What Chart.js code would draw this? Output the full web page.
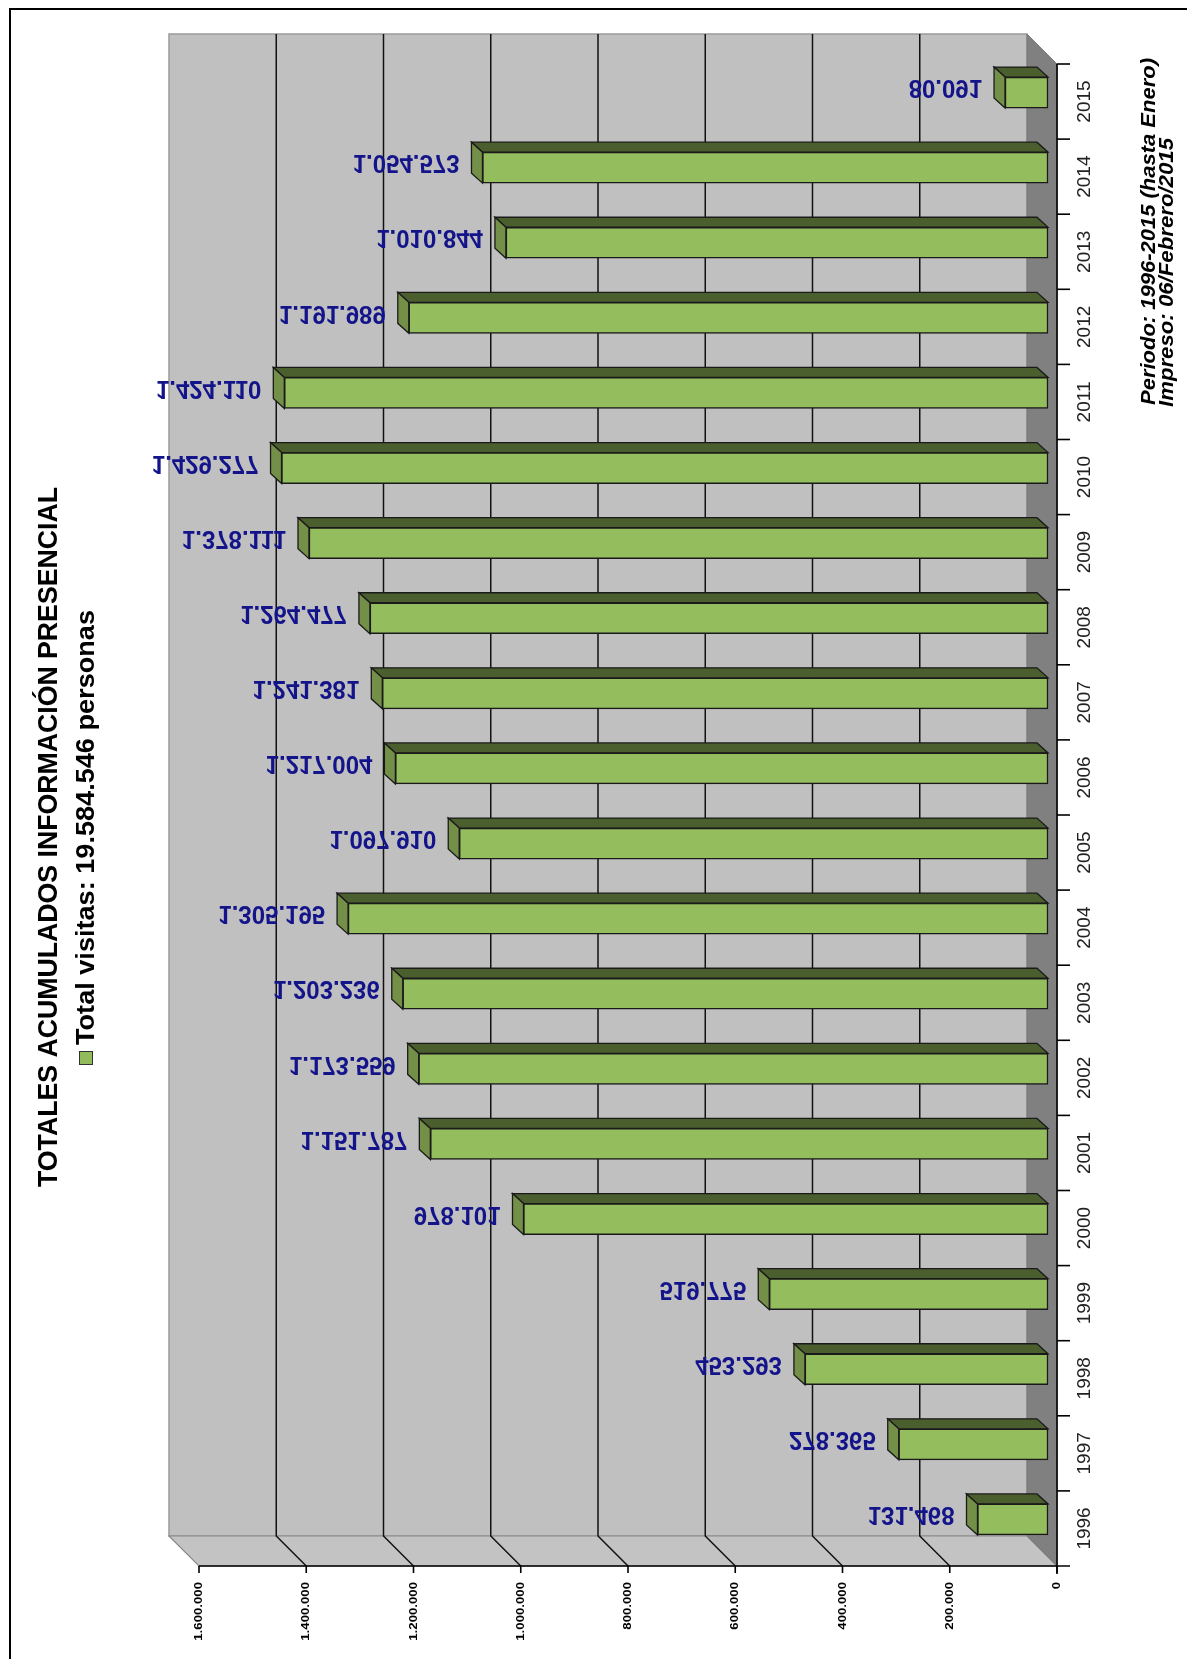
<!DOCTYPE html>
<html>
<head>
<meta charset="utf-8">
<script src="https://cdn.jsdelivr.net/npm/chart.js@4"></script>
<style>
  html, body { margin: 0; padding: 0; background: #fff; }
  #wrap { width: 1187px; height: 1659px; position: relative; }
</style>
</head>
<body>
<div id="wrap"><canvas id="visitsChart" width="1187" height="1659"></canvas></div>
<script>
// data (years bottom to top)
const years = ['1996','1997','1998','1999','2000','2001','2002','2003','2004','2005',
               '2006','2007','2008','2009','2010','2011','2012','2013','2014','2015'];
const visits = [131468, 278365, 453293, 519775, 978101, 1151787, 1173559, 1203236, 1305195, 1097910,
                1217004, 1241381, 1264477, 1378111, 1429277, 1424110, 1191989, 1010844, 1054573, 80091];
const valueTicksMax = 1600000;
const valueTickStep = 200000;
const titleText = 'TOTALES ACUMULADOS INFORMACIÓN PRESENCIAL';
const legendText = 'Total visitas: 19.584.546 personas';
const periodText = 'Periodo: 1996-2015 (hasta Enero)';
const printedText = 'Impreso: 06/Febrero/2015';

const FONT = '"Liberation Sans", Arial, sans-serif';
const DEPTH = 30;      // wall depth
const BAR_SHIFT = 9;   // bar front face offset into the depth
const BAR_DX = 11, BAR_DY = 10; // bar thickness in depth

function fmt(v) {
    return String(v).replace(/\B(?=(\d{3})+(?!\d))/g, '.');
}

// draw text with optional rotation / stretching
function txt(ctx, s, x, y, o) {
    ctx.save();
    ctx.translate(x, y);
    if (o.rot) ctx.rotate(o.rot);
    ctx.font = o.font;
    ctx.fillStyle = o.color || '#000';
    ctx.textAlign = o.align || 'left';
    ctx.textBaseline = o.base || 'alphabetic';
    const w = ctx.measureText(s).width;
    let sx = o.wx || 1;
    if (o.len) sx = o.len / w;
    ctx.scale(sx, o.sy || 1);
    ctx.fillText(s, 0, 0);
    ctx.restore();
}

function poly(ctx, pts, fill, stroke, lw) {
    ctx.beginPath();
    ctx.moveTo(pts[0][0], pts[0][1]);
    for (let i = 1; i < pts.length; i++) ctx.lineTo(pts[i][0], pts[i][1]);
    ctx.closePath();
    if (fill) { ctx.fillStyle = fill; ctx.fill(); }
    if (stroke) { ctx.strokeStyle = stroke; ctx.lineWidth = lw || 1; ctx.stroke(); }
}

const scenePlugin = {
    id: 'scene3d',
    beforeDatasetsDraw(chart) {
        const ctx = chart.ctx;
        const a = chart.chartArea;
        const xs = chart.scales.x;
        const xMax = xs.getPixelForValue(valueTicksMax);
        const x0 = xs.getPixelForValue(0);
        ctx.save();
        // back wall
        poly(ctx, [[xMax - DEPTH, a.top - DEPTH], [x0 - DEPTH, a.top - DEPTH],
                   [x0 - DEPTH, a.bottom - DEPTH], [xMax - DEPTH, a.bottom - DEPTH]], '#c0c0c0', '#9a9a9a', 1.5);
        // floor
        poly(ctx, [[xMax - DEPTH, a.bottom - DEPTH], [x0 - DEPTH, a.bottom - DEPTH],
                   [x0, a.bottom], [xMax, a.bottom]], '#c3c3c3', '#8a8a8a', 1.2);
        // side wall at zero
        poly(ctx, [[x0 - DEPTH, a.top - DEPTH], [x0, a.top], [x0, a.bottom],
                   [x0 - DEPTH, a.bottom - DEPTH]], '#808080', '#7a7a7a', 1);
        // grid lines on wall and floor
        ctx.strokeStyle = '#111';
        ctx.lineWidth = 1.5;
        xs.ticks.forEach(t => {
            if (t.value === 0 || t.value === valueTicksMax) return;
            const px = xs.getPixelForValue(t.value);
            ctx.beginPath();
            ctx.moveTo(px - DEPTH, a.top - DEPTH);
            ctx.lineTo(px - DEPTH, a.bottom - DEPTH);
            ctx.lineTo(px, a.bottom);
            ctx.stroke();
        });
        ctx.restore();
    },
    beforeDatasetDraw(chart, args) {
        const ctx = chart.ctx;
        ctx.save();
        ctx.translate(-BAR_SHIFT, -BAR_SHIFT);
        args.meta.data.forEach(bar => {
            const p = bar.getProps(['x', 'y', 'base', 'height'], true);
            const left = Math.min(p.x, p.base), right = Math.max(p.x, p.base);
            const top = p.y - p.height / 2, bottom = p.y + p.height / 2;
            poly(ctx, [[left, top], [right, top], [right - BAR_DX, top - BAR_DY], [left - BAR_DX, top - BAR_DY]],
                 '#4b5e2e', '#1a1a1a', 1.3);
            poly(ctx, [[left, top], [left, bottom], [left - BAR_DX, bottom - BAR_DY], [left - BAR_DX, top - BAR_DY]],
                 '#748f48', '#1a1a1a', 1.3);
        });
    },
    afterDatasetDraw(chart) {
        chart.ctx.restore();
    },
    afterDatasetsDraw(chart) {
        const ctx = chart.ctx;
        const meta = chart.getDatasetMeta(0);
        meta.data.forEach((bar, i) => {
            const p = bar.getProps(['x', 'y'], true);
            txt(ctx, fmt(visits[i]), p.x - BAR_SHIFT - BAR_DX - 12, p.y - BAR_SHIFT - 5, {
                font: 'bold 24px ' + FONT, color: '#13138a', align: 'right', base: 'middle', sy: -1.1
            });
        });
    },
    afterDraw(chart) {
        const ctx = chart.ctx;
        const a = chart.chartArea;
        const xs = chart.scales.x;
        const ys = chart.scales.y;
        const x0 = xs.getPixelForValue(0);
        const xMax = xs.getPixelForValue(valueTicksMax);
        ctx.save();
        ctx.strokeStyle = '#000';
        ctx.lineWidth = 1.6;
        // value axis
        ctx.beginPath();
        ctx.moveTo(xMax, a.bottom);
        ctx.lineTo(x0 + 13, a.bottom);
        ctx.stroke();
        // category axis
        ctx.beginPath();
        ctx.moveTo(x0, a.top);
        ctx.lineTo(x0, a.bottom + 8);
        ctx.stroke();
        // value ticks and labels
        xs.ticks.forEach(t => {
            const px = xs.getPixelForValue(t.value);
            ctx.beginPath();
            ctx.moveTo(px, a.bottom);
            ctx.lineTo(px, a.bottom + 7);
            ctx.stroke();
            txt(ctx, fmt(t.value), px, a.bottom + 16, {
                font: 'bold 11px ' + FONT, rot: -Math.PI / 2, align: 'right', base: 'middle', wx: 1.2
            });
        });
        // category ticks and labels
        const band = Math.abs(ys.getPixelForValue(1) - ys.getPixelForValue(0));
        years.forEach((yr, i) => {
            const cy = ys.getPixelForValue(i);
            ctx.beginPath();
            ctx.moveTo(x0, cy - band / 2);
            ctx.lineTo(x0 + 13, cy - band / 2);
            ctx.stroke();
            txt(ctx, yr, x0 + 28, cy, {
                font: '19px ' + FONT, color: '#222', rot: -Math.PI / 2, align: 'center', base: 'middle'
            });
        });
        // title and legend
        txt(ctx, titleText, 57, 1187, { font: 'bold 27px ' + FONT, rot: -Math.PI / 2, len: 700 });
        ctx.fillStyle = '#92bb5c';
        ctx.fillRect(79, 1051, 13, 13);
        ctx.lineWidth = 1;
        ctx.strokeStyle = '#333';
        ctx.strokeRect(79.5, 1051.5, 13, 13);
        txt(ctx, legendText, 94, 1045, { font: 'bold 25px ' + FONT, rot: -Math.PI / 2, len: 435 });
        // footnote on the right
        txt(ctx, periodText, 1155, 405, { font: 'italic bold 20px ' + FONT, rot: -Math.PI / 2, len: 347 });
        txt(ctx, printedText, 1173, 407, { font: 'italic bold 20px ' + FONT, rot: -Math.PI / 2, len: 269 });
        // frame
        ctx.fillStyle = '#000';
        ctx.fillRect(9, 8, 1178, 2);
        ctx.fillRect(9, 8, 2, 1651);
        ctx.restore();
    }
};

const ctx = document.getElementById('visitsChart').getContext('2d');
new Chart(ctx, {
    type: 'bar',
    data: {
        labels: years,
        datasets: [{
            label: legendText,
            data: visits,
            backgroundColor: '#94bd5e',
            borderColor: '#1a1a1a',
            borderWidth: 1.5,
            borderSkipped: false,
            barThickness: 31,
            clip: false
        }]
    },
    options: {
        indexAxis: 'y',
        responsive: false,
        animation: false,
        devicePixelRatio: 1,
        layout: { padding: { left: 199, right: 130, top: 64, bottom: 93 } },
        scales: {
            x: {
                display: false,
                reverse: true,
                min: 0,
                max: valueTicksMax,
                ticks: { stepSize: valueTickStep }
            },
            y: {
                display: false,
                reverse: true
            }
        },
        plugins: {
            legend: { display: false },
            title: { display: false },
            tooltip: { enabled: false }
        }
    },
    plugins: [scenePlugin]
});
</script>
</body>
</html>
